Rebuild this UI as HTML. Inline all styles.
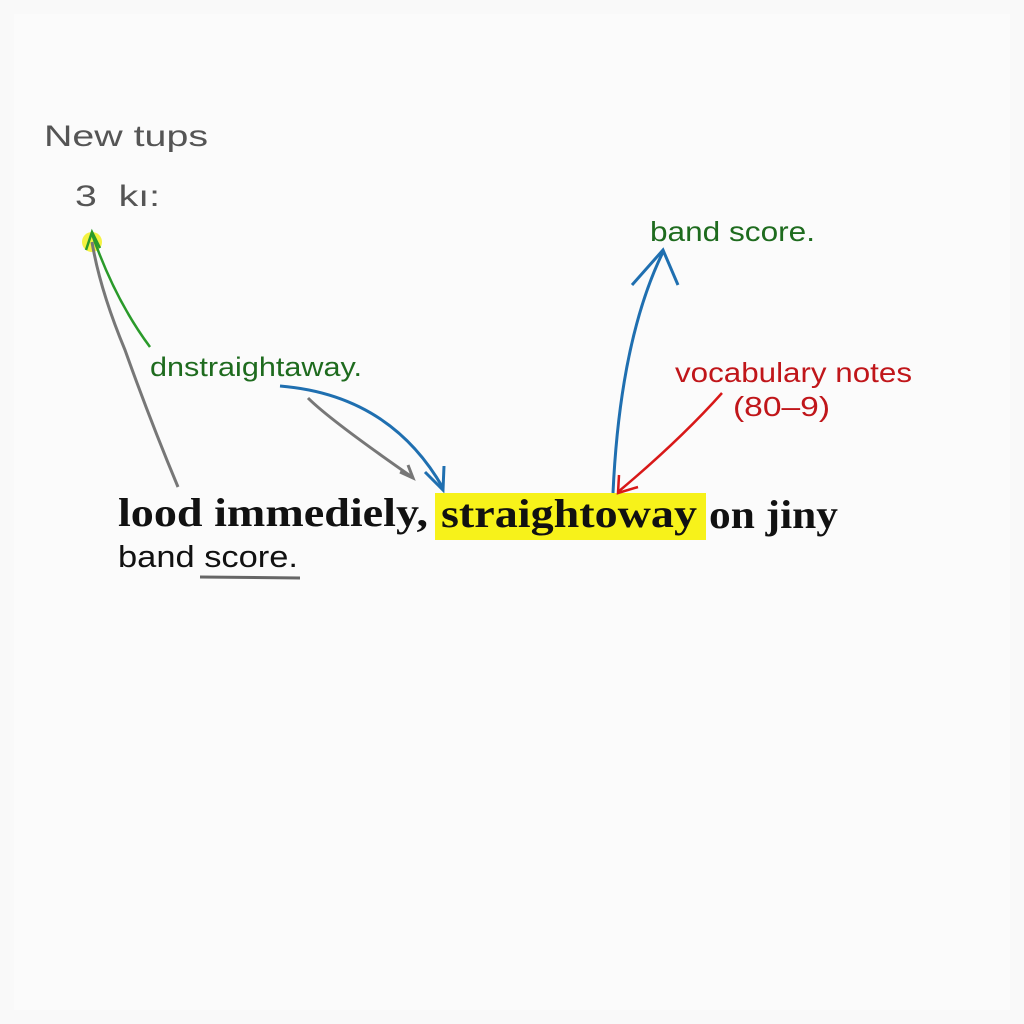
<!DOCTYPE html>
<html><head><meta charset="utf-8"><style>
html,body{margin:0;padding:0;background:#f9f9f9;}
svg{display:block}
</style></head><body>
<svg width="1024" height="1024" viewBox="0 0 1024 1024" xmlns="http://www.w3.org/2000/svg">
<rect width="1024" height="1024" fill="#f9f9f9"/>
<rect x="14" y="14" width="996" height="996" fill="#fbfbfb"/>
<g font-family="Liberation Sans, DejaVu Sans, sans-serif" lengthAdjust="spacingAndGlyphs">
<text x="44" y="146" font-size="30" fill="#555" font-weight="300" textLength="164" lengthAdjust="spacingAndGlyphs">New tups</text>
<text x="75" y="206" font-size="30" fill="#555" textLength="85" lengthAdjust="spacingAndGlyphs">3&#160;&#160;kı:</text>
<circle cx="92" cy="242" r="10" fill="#f2f020" opacity="0.85"/>
<path d="M150,347 Q115,300 92,234" stroke="#2a9a2a" stroke-width="2.5" fill="none"/>
<path d="M86,250 L92,232 L100,248" stroke="#2a9a2a" stroke-width="2.5" fill="none"/>
<path d="M178,487 Q150,420 125,350 Q100,290 92,242" stroke="#777" stroke-width="3" fill="none"/>
<text x="150" y="376" font-size="27" fill="#1e6b1e" textLength="212" lengthAdjust="spacingAndGlyphs">dnstraightaway.</text>
<path d="M280,386 Q390,395 443,488" stroke="#1f6fb0" stroke-width="3" fill="none"/>
<path d="M425,472 L443,490 L444,466" stroke="#1f6fb0" stroke-width="3" fill="none"/>
<path d="M308,398 Q330,420 412,477" stroke="#777" stroke-width="3" fill="none"/>
<path d="M400,472 L413,478 L408,465" stroke="#777" stroke-width="3" fill="none"/>
<rect x="435" y="493" width="271" height="47" fill="#f7f21a"/>
<text x="118" y="526" font-size="40" fill="#111" font-family="Liberation Serif, serif" font-weight="bold" textLength="310" lengthAdjust="spacingAndGlyphs">lood immediely,</text>
<text x="441" y="527" font-size="40" fill="#111" font-family="Liberation Serif, serif" font-weight="bold" textLength="256" lengthAdjust="spacingAndGlyphs">straightoway</text>
<text x="709" y="528" font-size="40" fill="#111" font-family="Liberation Serif, serif" font-weight="bold" textLength="129" lengthAdjust="spacingAndGlyphs">on jiny</text>
<text x="118" y="567" font-size="31" fill="#111" textLength="180" lengthAdjust="spacingAndGlyphs">band score.</text>
<path d="M200,577 L300,578" stroke="#666" stroke-width="3"/>
<text x="650" y="241" font-size="28" fill="#1e6b1e" textLength="165" lengthAdjust="spacingAndGlyphs">band score.</text>
<path d="M613,493 Q620,340 663,252" stroke="#1f6fb0" stroke-width="3" fill="none"/>
<path d="M632,285 L663,250 L678,285" stroke="#1f6fb0" stroke-width="3" fill="none"/>
<text x="675" y="382" font-size="28" fill="#c0161a" textLength="237" lengthAdjust="spacingAndGlyphs">vocabulary notes</text>
<text x="733" y="416" font-size="28" fill="#c0161a" textLength="97" lengthAdjust="spacingAndGlyphs">(80–9)</text>
<path d="M722,393 Q680,440 618,492" stroke="#d81818" stroke-width="2.5" fill="none"/>
<path d="M619,475 L618,493 L638,487" stroke="#d81818" stroke-width="2.5" fill="none"/>
</g>
</svg>
</body></html>
